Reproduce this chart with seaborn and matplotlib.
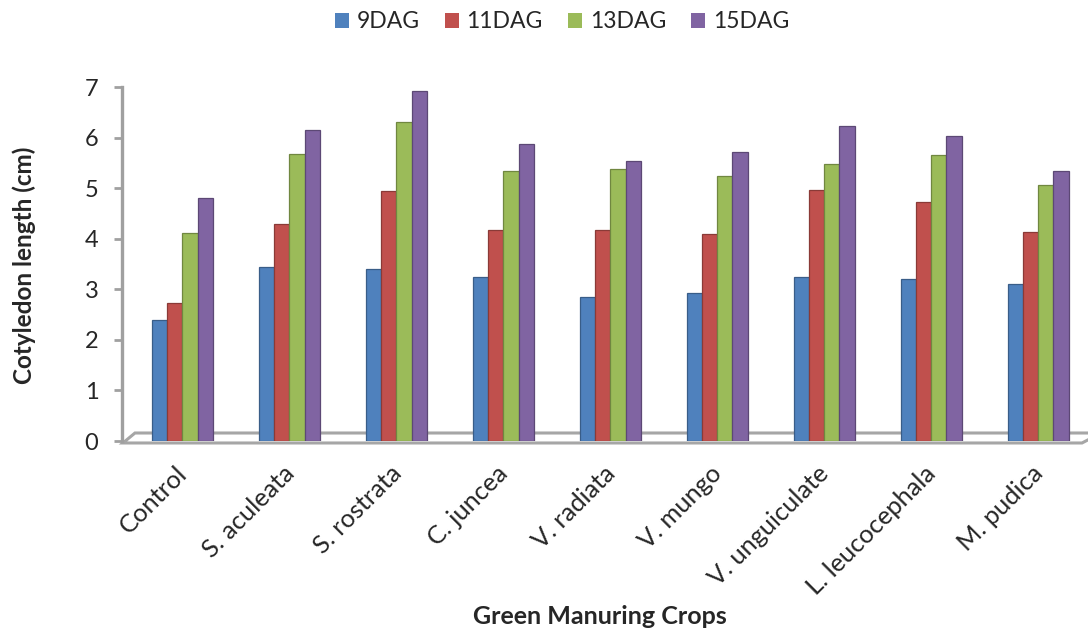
import numpy as np
import pandas as pd
import matplotlib
matplotlib.use("Agg")
import matplotlib.pyplot as plt
from matplotlib.patches import Polygon
from matplotlib.colors import to_rgb
from matplotlib.transforms import ScaledTranslation
import seaborn as sns

crops = ["Control", "S. aculeata", "S. rostrata", "C. juncea", "V. radiata",
         "V. mungo", "V. unguiculate", "L. leucocephala", "M. pudica"]
stages = ["9DAG", "11DAG", "13DAG", "15DAG"]
dag9 = [2.40, 3.45, 3.40, 3.25, 2.85, 2.93, 3.25, 3.20, 3.10]
dag11 = [2.73, 4.30, 4.95, 4.17, 4.17, 4.10, 4.97, 4.72, 4.14]
dag13 = [4.12, 5.67, 6.30, 5.33, 5.37, 5.24, 5.48, 5.66, 5.07]
dag15 = [4.80, 6.14, 6.92, 5.87, 5.54, 5.72, 6.23, 6.04, 5.33]
colors = ["#4F81BD", "#C0504D", "#9BBB59", "#8064A2"]

df = pd.DataFrame({
    "crop": crops * 4,
    "stage": np.repeat(stages, len(crops)),
    "length": dag9 + dag11 + dag13 + dag15,
})

sns.set_theme(style="white")
plt.rcParams["font.family"] = ["Lato", "DejaVu Sans"]

fig = plt.figure(figsize=(10.88, 6.3), dpi=100)
ax = fig.add_axes([122 / 1088, 1 - 441 / 630, 960 / 1088, 354 / 630])

sns.barplot(data=df, x="crop", y="length", hue="stage", order=crops,
            hue_order=stages, palette=colors, saturation=1, width=0.57, gap=0,
            ax=ax, legend=False, zorder=3, linewidth=0.9)

# darker outline per series for a bevelled look
for cont, c in zip(ax.containers, colors):
    dark = tuple(v * 0.72 for v in to_rgb(c))
    for p in cont:
        p.set_edgecolor(dark)

ax.set_xlim(-0.565, 8.41)
ax.set_ylim(0, 7)
ax.set_yticks(range(0, 8))
ax.tick_params(axis="y", labelsize=17, length=6, width=2, color="#a0a0a0",
               pad=11, left=True)
ax.tick_params(axis="x", length=0, pad=15, labelsize=18.3)
shift = ScaledTranslation(-7 / 100, 0, fig.dpi_scale_trans)
for lab in ax.get_xticklabels():
    lab.set_rotation(45)
    lab.set_ha("right")
    lab.set_va("top")
    lab.set_rotation_mode("anchor")
    lab.set_transform(lab.get_transform() + shift)

for s in ["top", "right", "bottom"]:
    ax.spines[s].set_visible(False)
ax.spines["left"].set_color("#a0a0a0")
ax.spines["left"].set_linewidth(2.4)
ax.spines["left"].set_bounds(-0.006, 7)

# floor of the 3-D plot area
floor = Polygon([(0.001, -0.0056), (0.0135, 0.0226), (1.02, 0.0226), (1.0, -0.0056)],
                closed=True, transform=ax.transAxes, facecolor="white",
                edgecolor="#a6a6a6", linewidth=2.2, clip_on=False, zorder=1)
ax.add_patch(floor)

ax.set_xlabel("Green Manuring Crops", fontsize=18, fontweight="bold")
ax.set_ylabel("Cotyledon length (cm)", fontsize=17.5, fontweight="bold")
ax.xaxis.label.set_va("center")
ax.xaxis.set_label_coords(478 / 960, -(617 - 441) / 354)
ax.yaxis.label.set_va("center")
ax.yaxis.set_label_coords(-(122 - 24) / 960, (441 - 265) / 354)

handles = [plt.Rectangle((0, 0), 1, 1, facecolor=c, edgecolor="none") for c in colors]
fig.legend(handles, stages, loc="center", bbox_to_anchor=(562 / 1088, 1 - 22 / 630),
           ncol=4, frameon=False, fontsize=16.5, handlelength=0.6, handleheight=0.6,
           handletextpad=0.35, columnspacing=1.1)

fig.savefig("out.png", dpi=100)
